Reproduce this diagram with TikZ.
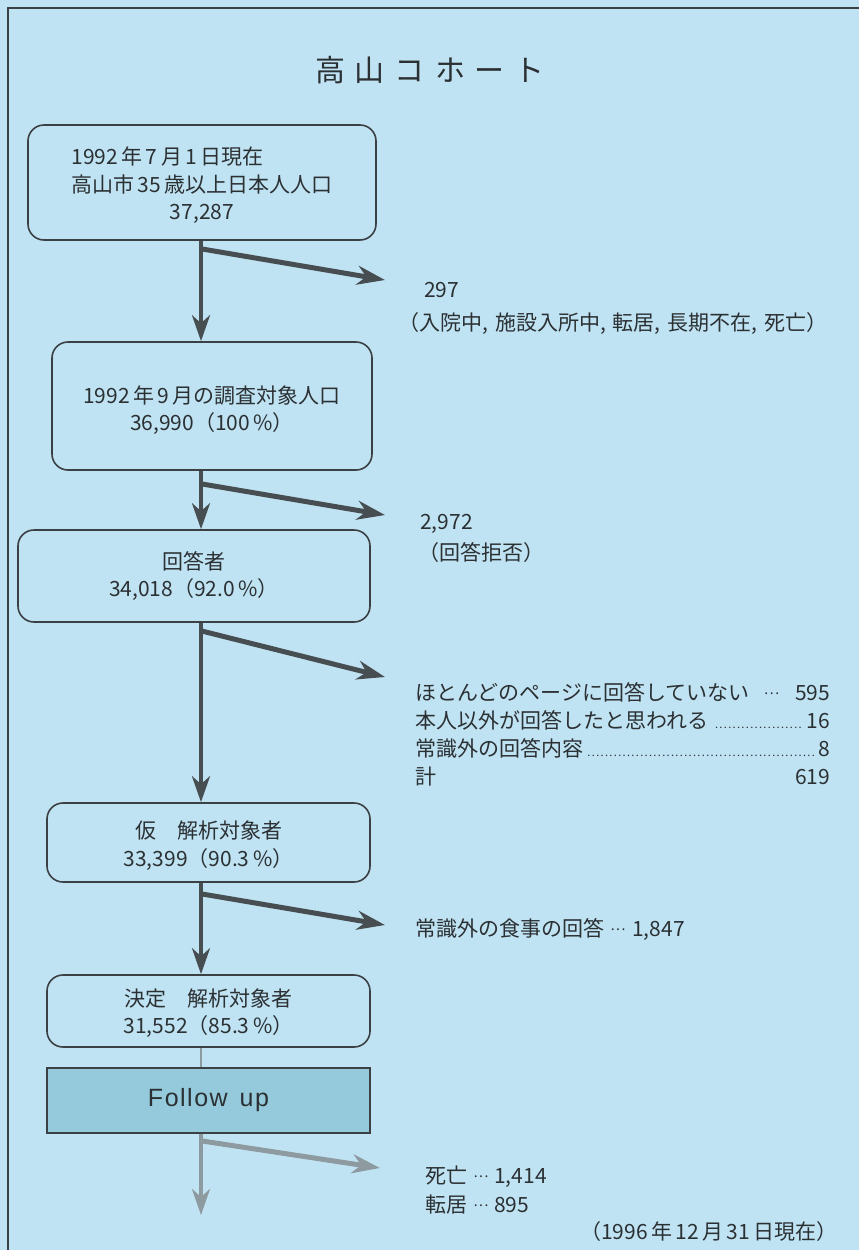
\documentclass[tikz,border=0pt]{standalone}
\usepackage{fontspec}
\setmainfont{Noto Sans CJK JP}
\newfontfamily\fufont{Liberation Sans}
\usetikzlibrary{arrows.meta,calc}
\definecolor{bg}{HTML}{C0E3F3}
\definecolor{fufill}{HTML}{95CADC}
\definecolor{edge}{HTML}{3A4043}
\definecolor{dark}{HTML}{474E52}
\definecolor{light}{HTML}{8D9AA0}
\definecolor{ink}{HTML}{2B3033}
\newcommand\dotlead{\leaders\hbox to 4.4pt{\hss\fontsize{11}{11}\selectfont.\hss}\hfill}
\newcommand\mdots{\raisebox{6pt}{\fontsize{14}{14}\selectfont\hbox to 18pt{\hss.\hss.\hss.\hss}}}
\begin{document}
\begin{tikzpicture}[x=1pt,y=-1pt,
  box/.style={draw=edge, line width=1.6pt, rounded corners=16pt, inner sep=0pt},
  btext/.style={text=ink, font=\fontsize{21}{27.5}\selectfont, align=center, inner sep=0pt},
  fubox/.style={draw=edge, line width=1.6pt, fill=fufill, inner sep=0pt, text=ink},
  trunk/.style={draw=dark, line width=4pt, -{Stealth[length=26pt,width=18pt,inset=8pt]}},
  branch/.style={draw=dark, line width=5pt, -{Stealth[length=28pt,width=19pt,inset=9pt]}},
  ltrunk/.style={trunk, draw=light},
  lbranch/.style={branch, draw=light},
  lbl/.style={text=ink, font=\fontsize{21}{28}\selectfont, inner sep=0pt},
]
\fill[bg] (0,0) rectangle (859,1250);
\useasboundingbox (0,0) rectangle (859,1250);
\draw[edge, line width=2pt] (8,1250) -- (8,8) -- (859,8);

\node[text=ink, font=\fontsize{30}{30}\selectfont, inner sep=0pt] (title) at (430,70)
  {高\hspace{10pt}山\hspace{10pt}コ\hspace{10pt}ホ\hspace{10pt}ー\hspace{10pt}ト};

% boxes
\node[box, minimum width=348pt, minimum height=115pt] (b1) at (202,182.5) {};
\node[btext] (b1t) at ($(b1.center)+(0,4)$)
  {\begin{tabular}{@{}l@{}}1992\,年\,7\,月\,1\,日現在\\ 高山市\,35\,歳以上日本人人口\\ \multicolumn{1}{@{}c@{}}{37,287}\end{tabular}};
\node[box, minimum width=320pt, minimum height=128pt] (b2) at (212,406) {};
\node[btext] (b2t) at ($(b2.center)+(0,4)$) {1992\,年\,9\,月の調査対象人口\\36,990（100\,\%）};
\node[box, minimum width=352pt, minimum height=92pt] (b3) at (194,576) {};
\node[btext] (b3t) at ($(b3.center)+(0,0)$) {回答者\\34,018（92.0\,\%）};
\node[box, minimum width=323pt, minimum height=79pt] (b4) at (208.5,842.5) {};
\node[btext] (b4t) at ($(b4.center)+(0,3)$) {仮　解析対象者\\33,399（90.3\,\%）};
\node[box, minimum width=323pt, minimum height=72pt] (b5) at (208.5,1011) {};
\node[btext] (b5t) at ($(b5.center)+(0,2)$) {決定　解析対象者\\31,552（85.3\,\%）};
\node[fubox, minimum width=323pt, minimum height=65pt,
  font=\fufont\fontsize{25}{25}\selectfont\addfontfeatures{LetterSpace=6}] (fu) at (208.5,1100.5)
  {Follow\hspace{12pt}up};

% trunk and branches
\coordinate (tx) at (201,0);
\coordinate (e1) at (385,280);
\coordinate (e2) at (385,515);
\coordinate (e3) at (385,677);
\coordinate (e4) at (385,925);
\coordinate (e5) at (380,1168);
\coordinate (end) at (201,1215);

\draw[trunk] (b1.south -| tx) -- (b2.north -| tx);
\draw[branch] ($(b1.south -| tx)+(0,8)$) -- (e1);
\draw[trunk] (b2.south -| tx) -- (b3.north -| tx);
\draw[branch] ($(b2.south -| tx)+(0,13)$) -- (e2);
\draw[trunk] (b3.south -| tx) -- (b4.north -| tx);
\draw[branch] ($(b3.south -| tx)+(0,8)$) -- (e3);
\draw[trunk] (b4.south -| tx) -- (b5.north -| tx);
\draw[branch] ($(b4.south -| tx)+(0,11)$) -- (e4);
\draw[draw=light, line width=2.5pt] (b5.south -| tx) -- (fu.north -| tx);
\draw[ltrunk] (fu.south -| tx) -- (end);
\draw[lbranch] ($(fu.south -| tx)+(0,7)$) -- (e5);

% labels
\node[lbl, anchor=base west] (n1) at (424,297.5) {297};
\node[lbl, anchor=base west] (n1b) at (398,330.5) {（入院中,\hspace{7pt}施設入所中,\hspace{7pt}転居,\hspace{7pt}長期不在,\hspace{7pt}死亡）};
\node[lbl, anchor=base west] (n2) at (420,529.5) {2,972};
\node[lbl, anchor=base west] (n2b) at (418,560) {（回答拒否）};
\node[lbl, anchor=base west] (r1) at (415,700.5) {\hbox to 415pt{ほとんどのページに回答していない\hspace{4pt plus 1fill}\mdots\hspace{5pt plus 1fill}595}};
\node[lbl, anchor=base west] (r2) at (415,728.5) {\hbox to 415pt{本人以外が回答したと思われる\,\dotlead\,16}};
\node[lbl, anchor=base west] (r3) at (415,756.5) {\hbox to 415pt{常識外の回答内容\,\dotlead 8}};
\node[lbl, anchor=base west] (r4) at (415,784.5) {\hbox to 415pt{計\hfill 619}};
\node[lbl, anchor=base west] (n4) at (415,936) {常識外の食事の回答\hspace{5pt}\mdots\hspace{5pt}1,847};
\node[lbl, anchor=base west] (n5a) at (425,1183.5) {死亡\hspace{5pt}\mdots\hspace{4pt}1,414};
\node[lbl, anchor=base west] (n5b) at (425,1212.5) {転居\hspace{5pt}\mdots\hspace{4pt}895};
\node[lbl, anchor=base east] (n5c) at (838,1239.5) {（1996\,年\,12\,月\,31\,日現在）};
\end{tikzpicture}
\end{document}
